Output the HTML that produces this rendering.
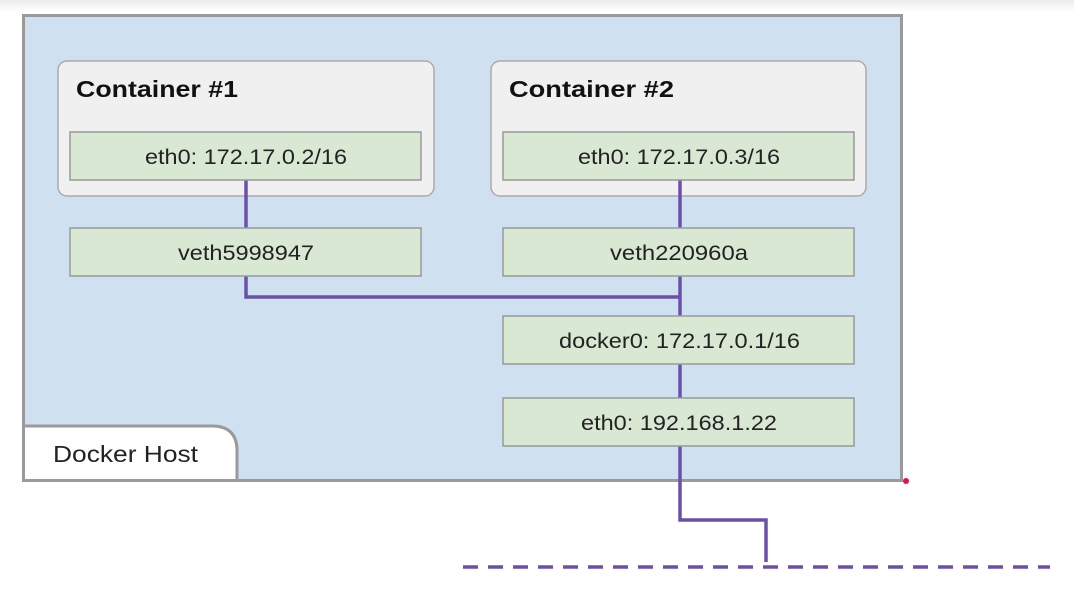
<!DOCTYPE html>
<html><head><style>
body{margin:0;width:1074px;height:600px;background:#fff;overflow:hidden;font-family:"Liberation Sans","DejaVu Sans",sans-serif}
</style></head><body>
<svg width="1074" height="600" xmlns="http://www.w3.org/2000/svg">
<defs><linearGradient id="g" x1="0" y1="0" x2="0" y2="1"><stop offset="0" stop-color="#ececec"/><stop offset="1" stop-color="#fff"/></linearGradient></defs>
<rect x="0" y="0" width="1074" height="12" fill="url(#g)"/>
<rect x="23.5" y="15.5" width="878" height="465" fill="#cfe0f1" stroke="#9a9a9a" stroke-width="3"/>
<path d="M23.5 426 H212 Q237 426 237 451 V480.5 H23.5 Z" fill="#fff" stroke="#9a9a9a" stroke-width="3"/>
<text x="53" y="462" font-size="23" fill="#222" textLength="145" lengthAdjust="spacingAndGlyphs">Docker Host</text>
<rect x="58" y="61" width="376" height="135" rx="9" fill="#f0f0f0" stroke="#aaa" stroke-width="1.5"/>
<rect x="491" y="61" width="375" height="135" rx="9" fill="#f0f0f0" stroke="#aaa" stroke-width="1.5"/>
<text x="76" y="97" font-size="23" font-weight="bold" fill="#111" textLength="162" lengthAdjust="spacingAndGlyphs">Container #1</text>
<text x="509" y="97" font-size="23" font-weight="bold" fill="#111" textLength="165" lengthAdjust="spacingAndGlyphs">Container #2</text>
<g stroke="#6a50aa" stroke-width="3.5" fill="none">
<path d="M246 180 V297 H680"/>
<path d="M680 180 V520 H766 V562"/>
<path d="M463 567 H1050" stroke-dasharray="15 10"/>
</g>
<g fill="#d9e8d3" stroke="#999" stroke-width="1.5">
<rect x="70" y="132" width="351" height="48"/>
<rect x="70" y="228" width="351" height="48"/>
<rect x="503" y="132" width="351" height="48"/>
<rect x="503" y="228" width="351" height="48"/>
<rect x="503" y="316" width="351" height="48"/>
<rect x="503" y="398" width="351" height="48"/>
</g>
<g font-size="21" fill="#222" lengthAdjust="spacingAndGlyphs">
<text x="145" y="164" textLength="202" lengthAdjust="spacingAndGlyphs">eth0: 172.17.0.2/16</text>
<text x="178" y="260" textLength="136" lengthAdjust="spacingAndGlyphs">veth5998947</text>
<text x="578" y="164" textLength="202" lengthAdjust="spacingAndGlyphs">eth0: 172.17.0.3/16</text>
<text x="610" y="260" textLength="138" lengthAdjust="spacingAndGlyphs">veth220960a</text>
<text x="559" y="348" textLength="241" lengthAdjust="spacingAndGlyphs">docker0: 172.17.0.1/16</text>
<text x="581" y="430" textLength="196" lengthAdjust="spacingAndGlyphs">eth0: 192.168.1.22</text>
</g>
<circle cx="906" cy="481" r="3" fill="#e8104a"/>
</svg>
</body></html>
